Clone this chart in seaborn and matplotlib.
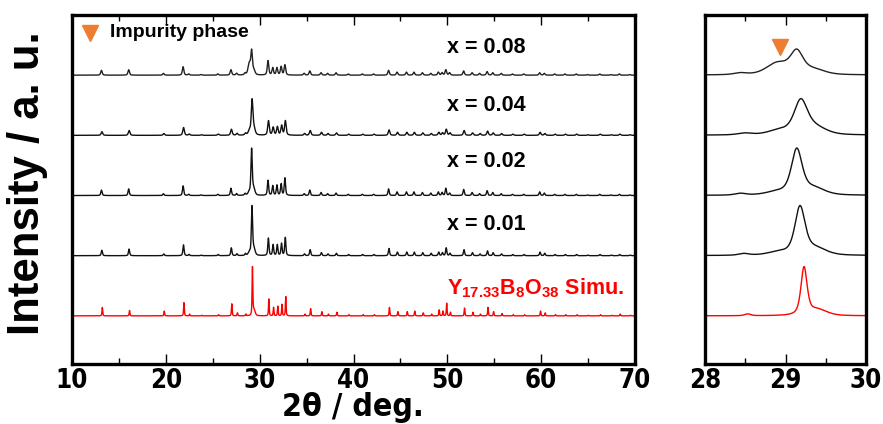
import numpy as np
import pandas as pd
import matplotlib
matplotlib.use("Agg")
import matplotlib.pyplot as plt
import seaborn as sns
from matplotlib import font_manager
from matplotlib.font_manager import FontProperties

# ---------------- data ----------------
series_names = ["Y17.33B8O38 Simu.", "x = 0.01", "x = 0.02", "x = 0.04", "x = 0.08"]
offsets = [0, 1, 2, 3, 4]
colors = ["#ff0000", "#111111", "#111111", "#111111", "#222222"]

# sharp reflection positions (2theta, deg)
peak_pos = [13.2, 16.1, 19.8, 21.9, 22.5, 23.8, 25.6, 27.0, 27.6, 28.5, 29.2,
            30.95, 31.45, 31.9, 32.35, 32.75, 34.8, 35.4, 36.6, 37.3, 38.2, 39.5, 41.0,
            42.2, 43.8, 44.7, 45.7, 46.5, 47.4, 48.3, 49.1, 49.5, 49.9, 50.3, 51.8,
            52.7, 53.5, 54.3, 54.9, 55.8, 57.0, 58.2, 59.9, 60.4, 61.5, 62.6, 63.8,
            65.0, 66.3, 67.5, 68.4, 69.5]

h_sim = [0.14, 0.09, 0.08, 0.22, 0.03, 0.01, 0.02, 0.20, 0.05, 0.03, 0.78,
         0.28, 0.14, 0.16, 0.19, 0.32, 0.03, 0.12, 0.07, 0.03, 0.06, 0.02, 0.02,
         0.02, 0.14, 0.07, 0.07, 0.08, 0.05, 0.03, 0.10, 0.08, 0.21, 0.06, 0.13,
         0.06, 0.03, 0.14, 0.07, 0.04, 0.02, 0.02, 0.08, 0.05, 0.02, 0.02, 0.02,
         0.01, 0.02, 0.01, 0.03, 0.01]
h_001 = [0.09, 0.11, 0.03, 0.18, 0.02, 0.01, 0.02, 0.13, 0.03, 0.03, 0.78,
         0.29, 0.18, 0.18, 0.20, 0.30, 0.03, 0.10, 0.05, 0.03, 0.04, 0.02, 0.02,
         0.02, 0.12, 0.06, 0.06, 0.06, 0.05, 0.04, 0.06, 0.05, 0.13, 0.04, 0.10,
         0.05, 0.03, 0.08, 0.05, 0.03, 0.02, 0.02, 0.06, 0.04, 0.02, 0.02, 0.02,
         0.01, 0.02, 0.01, 0.02, 0.01]
h_002 = [0.09, 0.11, 0.03, 0.16, 0.02, 0.01, 0.02, 0.12, 0.03, 0.03, 0.74,
         0.25, 0.16, 0.17, 0.19, 0.29, 0.03, 0.09, 0.05, 0.03, 0.04, 0.02, 0.02,
         0.02, 0.11, 0.06, 0.06, 0.06, 0.05, 0.04, 0.06, 0.05, 0.12, 0.04, 0.10,
         0.05, 0.03, 0.08, 0.05, 0.03, 0.02, 0.02, 0.06, 0.04, 0.02, 0.02, 0.02,
         0.01, 0.02, 0.01, 0.02, 0.01]
h_004 = [0.06, 0.08, 0.03, 0.13, 0.02, 0.01, 0.02, 0.10, 0.03, 0.03, 0.55,
         0.24, 0.13, 0.14, 0.16, 0.24, 0.03, 0.08, 0.05, 0.03, 0.04, 0.02, 0.02,
         0.02, 0.09, 0.05, 0.05, 0.05, 0.04, 0.03, 0.05, 0.04, 0.10, 0.04, 0.08,
         0.04, 0.03, 0.07, 0.04, 0.03, 0.02, 0.02, 0.05, 0.03, 0.02, 0.02, 0.02,
         0.01, 0.02, 0.01, 0.02, 0.01]
h_008 = [0.08, 0.09, 0.03, 0.14, 0.02, 0.01, 0.02, 0.09, 0.03, 0.03, 0.36,
         0.24, 0.12, 0.12, 0.14, 0.17, 0.03, 0.07, 0.04, 0.03, 0.04, 0.02, 0.02,
         0.02, 0.08, 0.05, 0.05, 0.05, 0.04, 0.03, 0.05, 0.04, 0.09, 0.04, 0.07,
         0.04, 0.03, 0.06, 0.04, 0.03, 0.02, 0.02, 0.04, 0.03, 0.02, 0.02, 0.02,
         0.01, 0.02, 0.01, 0.02, 0.01]
heights = [h_sim, h_001, h_002, h_004, h_008]

# broad components around the main peak (impurity shoulder, high-angle tail)
broad_pos = [28.93, 29.38]
broad_h = [[0.00, 0.10], [0.05, 0.11], [0.05, 0.11], [0.07, 0.11], [0.19, 0.08]]
broad_w = [0.28, 0.32, 0.32, 0.32, 0.32]

# peak shift (deg) and FWHM (deg) per pattern
shifts = [0.03, -0.02, -0.06, -0.01, -0.06]
fwhm = [0.09, 0.15, 0.16, 0.20, 0.19]

# impurity marker position
impurity_x = 28.93
impurity_y = 4.47

# ---------------- build profiles ----------------
two_theta = np.arange(10.0, 70.0001, 0.004)


def add_peaks(y, pos, hts, shift, w, eta):
    for p, h in zip(pos, hts):
        if h <= 0:
            continue
        d = two_theta - (p + shift)
        lor = 1.0 / (1.0 + (2 * d / w) ** 2)
        gau = np.exp(-4 * np.log(2) * (d / w) ** 2)
        y = y + h * (eta * lor + (1 - eta) * gau)
    return y


frames = []
for i, name in enumerate(series_names):
    y = np.zeros_like(two_theta) + offsets[i]
    y = add_peaks(y, peak_pos, heights[i], shifts[i], fwhm[i], 0.55)
    y = add_peaks(y, broad_pos, broad_h[i], shifts[i] * 0.5, broad_w[i], 0.4)
    frames.append(pd.DataFrame({"two_theta": two_theta, "intensity": y, "pattern": name}))
df = pd.concat(frames, ignore_index=True)

# ---------------- style ----------------
sns.set_theme(style="white")
plt.rcParams["font.family"] = ["Liberation Sans", "DejaVu Sans"]
plt.rcParams["mathtext.fontset"] = "custom"
plt.rcParams["mathtext.rm"] = "Liberation Sans:bold"
plt.rcParams["mathtext.bf"] = "Liberation Sans:bold"
plt.rcParams["mathtext.it"] = "Liberation Sans:bold"

# look for a condensed bold face for the tick labels
narrow_fp = None
cands = []
for f in font_manager.fontManager.ttflist:
    key = (f.name + " " + f.fname).lower()
    if ("narrow" in key or "condensed" in key) and ("bold" in key or f.weight in ("bold", 700)):
        if "oblique" in key or "italic" in key:
            continue
        cands.append(f)
cands.sort(key=lambda f: (0 if "liberation" in f.fname.lower() else 1))
if cands:
    narrow_fp = FontProperties(fname=cands[0].fname)
tick_size = 18.5 if narrow_fp is not None else 17.5
xlab_size = 23 if narrow_fp is not None else 21

fig = plt.figure(figsize=(8.83, 4.24), dpi=100)
W, H = 883, 424
ax1 = fig.add_axes([72 / W, (H - 364) / H, 563 / W, 349 / H])
ax2 = fig.add_axes([705 / W, (H - 364) / H, 161 / W, 349 / H])

palette = dict(zip(series_names, colors))
for ax in (ax1, ax2):
    for name in series_names:
        sub = df[df["pattern"] == name]
        if ax is ax2:
            sub = sub[(sub["two_theta"] >= 27.9) & (sub["two_theta"] <= 30.1)]
        sns.lineplot(data=sub, x="two_theta", y="intensity", color=palette[name],
                     lw=1.0, ax=ax, estimator=None, sort=False, legend=False)
    ax.set_ylim(-0.8, 5.0)
    ax.set_yticks([])
    ax.set_xlabel("")
    ax.set_ylabel("")
    for s in ax.spines.values():
        s.set_linewidth(2.4)
        s.set_color("black")
    ax.tick_params(axis="x", which="both", direction="in", top=True, bottom=True,
                   width=1.0, colors="black", pad=3)
    ax.tick_params(axis="x", which="major", length=7)
    ax.tick_params(axis="x", which="minor", length=4)

ax1.set_xlim(10, 70)
ax1.set_xticks([10, 20, 30, 40, 50, 60, 70])
ax1.set_xticks(np.arange(15, 70, 10), minor=True)
ax2.set_xlim(28, 30)
ax2.set_xticks([28, 29, 30])
ax2.set_xticks([28.5, 29.5], minor=True)
for ax in (ax1, ax2):
    for lab in ax.get_xticklabels():
        if narrow_fp is not None:
            lab.set_fontproperties(narrow_fp)
        else:
            lab.set_fontweight("bold")
        lab.set_fontsize(tick_size)

# labels on patterns
lab_x = (447 - 72) / 563
for txt, yf in [("x = 0.08", 0.908), ("x = 0.04", 0.742), ("x = 0.02", 0.579), ("x = 0.01", 0.401)]:
    ax1.text(lab_x, yf, txt, transform=ax1.transAxes, ha="left", va="center",
             fontsize=15.5, fontweight="bold", color="black")
ax1.text(lab_x, 0.218, r"$\mathrm{Y_{17.33}B_{8}O_{38}}$ Simu.", transform=ax1.transAxes,
         ha="left", va="center", fontsize=15.5, fontweight="bold", color="#ff0000")

# impurity legend + marker
ax1.plot([0.032], [0.948], marker="v", color="#ed7d31", markersize=11, ls="none",
         transform=ax1.transAxes, clip_on=False)
ax1.text(0.0675, 0.951, "Impurity phase", transform=ax1.transAxes, ha="left", va="center",
         fontsize=14, fontweight="bold", color="black")
ax2.plot([impurity_x], [impurity_y], marker="v", color="#ed7d31", markersize=11, ls="none")

# axis titles
fig.text(28 / W, 1 - 183 / H, "Intensity / a. u.", rotation=90, ha="center", va="center",
         fontsize=31.5, fontweight="bold", color="black")
xl = fig.text(353 / W, 1 - 416 / H, "2θ / deg.", ha="center", va="baseline",
              fontsize=xlab_size, fontweight="bold", color="black")
if narrow_fp is not None:
    xl.set_fontproperties(narrow_fp)
    xl.set_fontsize(xlab_size)

fig.savefig("out.png", dpi=100)
